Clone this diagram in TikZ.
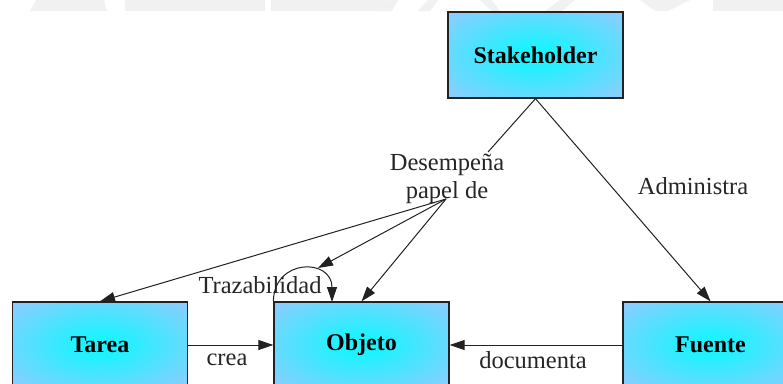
\documentclass[tikz,border=0pt]{standalone}
\usepackage{fontspec}
\setmainfont{Liberation Serif}
\usetikzlibrary{arrows.meta}
\definecolor{boxedge}{HTML}{A2C6FF}
\definecolor{boxcore}{HTML}{1EF2FF}
\definecolor{ink}{HTML}{222222}
\definecolor{bandgray}{HTML}{F1F1F1}
% soft cyan glow that fades to light blue toward the edges
\pgfdeclareradialshading{entityglow}{\pgfpoint{0bp}{0bp}}{%
  color(0bp)=(boxcore); color(6bp)=(boxcore); color(40bp)=(boxedge); color(72bp)=(boxedge)}
\begin{document}
\begin{tikzpicture}[x=1pt,y=-1pt,
  entity/.style={draw=ink, line width=1.3pt, minimum width=175pt, minimum height=86pt,
    shading=entityglow, font=\bfseries\fontsize{24}{28}\selectfont},
  rel/.style={draw=ink, line width=1pt},
  tip/.style={rel, -{Triangle[length=15pt,width=10pt]}},
  lbl/.style={font=\fontsize{24.5}{28}\selectfont, text=black!85, inner sep=0pt, align=center},
  band/.style={fill=bandgray}]
\useasboundingbox (0,0) rectangle (783,383);
\clip (0,0) rectangle (783,383);
\fill[white] (0,0) rectangle (783,383);

% faint header band
\fill[band] (30,11) -- (36,0) -- (104,0) -- (107,11) -- cycle;
\fill[band] (125,11) -- (125,0) -- (265,0) -- (265,11) -- cycle;
\fill[band] (271,11) -- (271,0) -- (386,0) -- (392,11) -- cycle;
\fill[band] (380,11) -- (388,0) -- (398,0) -- (392,11) -- cycle;
\fill[band] (418,11) -- (428,0) -- (438,0) -- (430,11) -- cycle;
\fill[band] (480,0) -- (492,11) -- (500,11) -- (492,0) -- cycle;
\fill[band] (545,11) -- (560,0) -- (575,0) -- (562,11) -- cycle;
\fill[band] (640,0) -- (655,11) -- (668,11) -- (690,0) -- cycle;
\fill[band] (713,11) -- (713,0) -- (783,0) -- (783,11) -- cycle;

% entities
\node[entity] (stake) at (535.5,55) {Stakeholder};
\node[entity] (tarea) at (100,345) {Tarea};
\node[entity] (objeto) at (361.5,345) {Objeto};
\node[entity] (fuente) at (710.5,345) {Fuente};

% relation labels
\node[lbl] (desemp) at (447,179) {Desempeña\\papel de};
\node[lbl] (admin) at (693,186) {Administra};
\node[lbl] (traz) at (260,285) {Trazabilidad};
\node[lbl] (crea) at (227,360) {crea};
\node[lbl] (docu) at (533,360) {documenta};

\coordinate (roleIn) at (488,152);
\coordinate (fan) at (446,199);
\coordinate (loopTop) at (318,268);

% Stakeholder relations
\draw[rel] (stake.south) -- (roleIn);
\draw[tip] (stake.south) -- (fuente.north);
\draw[tip] (fan) -- (tarea.north);
\draw[tip] (fan) -- (loopTop);
\draw[tip] (fan) -- (objeto.north);

% traceability self-loop on Objeto
\draw[tip] (objeto.north west) .. controls (274,258) and (332,258) .. (332,302);

% horizontal relations
\draw[tip] (tarea.east) -- (objeto.west);
\draw[tip] (fuente.west) -- (objeto.east);
\end{tikzpicture}
\end{document}
